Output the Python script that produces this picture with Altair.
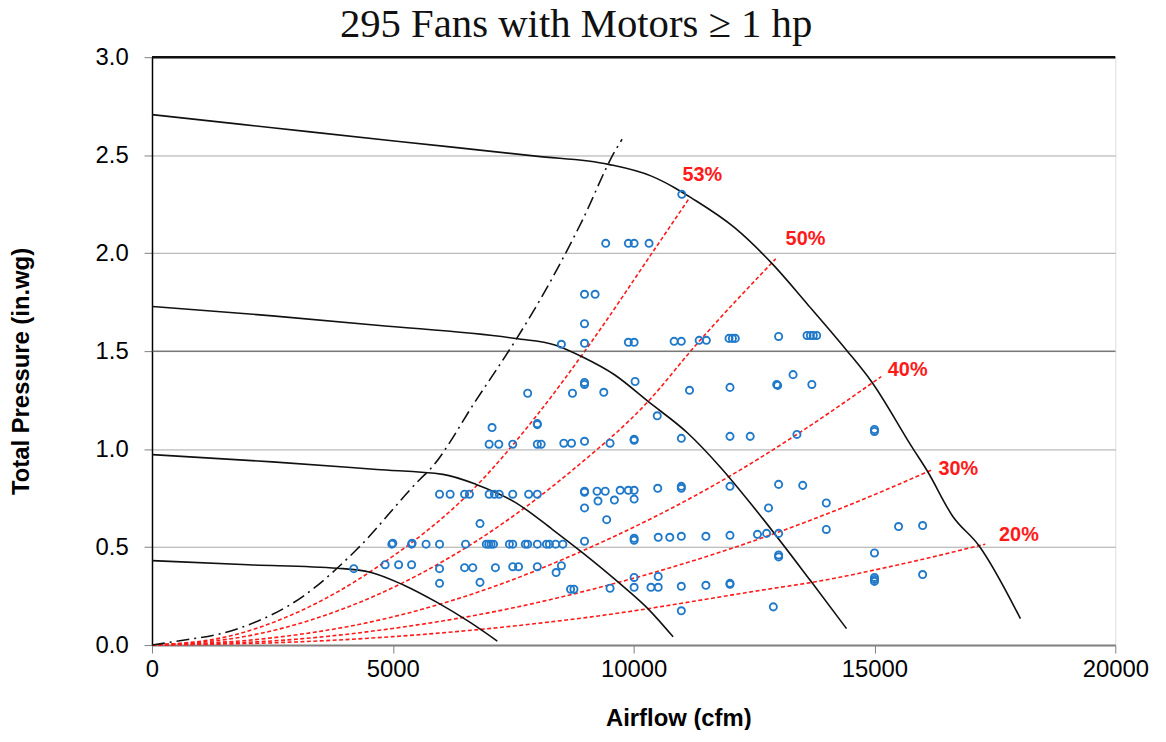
import altair as alt
import pandas as pd

# ---------------- data ----------------
# measured fans: airflow (cfm) and total pressure (in.wg)
fan_cfm = [
    11000,
    9420, 9890, 10010, 10320,
    8980, 9200,
    8980,
    8500, 8980, 9890, 10010, 10840, 10990, 11360, 11510, 11980, 12050, 12110,
    13010, 13600, 13670, 13730, 13800,
    13310,
    8980, 8980, 10030, 12970, 12990, 13700,
    7800, 8730, 9380, 11160, 12000,
    10490,
    8000, 8000,
    7060,
    7000, 7200, 7490, 8000, 8080, 8550, 8710, 8980, 9510, 10010, 10010, 10990,
    12000, 12420, 13390, 15000, 15000,
    13010, 13510,
    10500, 10990, 10990, 12000,
    5970, 6190, 6490, 6590, 7000, 7110, 7210, 7490, 7820, 8000,
    8980, 8980, 9240, 9410, 9720, 9890, 10010,
    9260, 9600, 10010,
    8980, 12800, 14000,
    9440,
    6810,
    14000, 15500, 16000,
    12570, 12760, 13010,
    10010, 10010, 10510, 10750, 10990, 11500, 12000,
    4980, 5000, 5390, 5400, 5690, 5970, 6510, 6940, 6990, 7040, 7090,
    7420, 7490, 7750, 7800, 8000, 8190, 8250, 8380, 8530, 8980,
    13010, 13010, 15000,
    4840, 5120, 5390, 5970, 6490, 6660, 7130, 7490, 7610, 8000, 8500,
    4190,
    8390,
    10010, 10510, 15000, 15000, 16000,
    5970, 6810, 15000,
    8690, 8760, 9510, 10010, 10360, 10510, 10990, 11500, 12000, 12000,
    10990, 12900,
]
fan_inwg = [
    2.30,
    2.05, 2.05, 2.05, 2.05,
    1.79, 1.79,
    1.64,
    1.535, 1.54, 1.545, 1.545, 1.55, 1.55, 1.555, 1.555, 1.565, 1.565, 1.565,
    1.575, 1.58, 1.58, 1.58, 1.58,
    1.38,
    1.34, 1.33, 1.345, 1.33, 1.325, 1.33,
    1.285, 1.285, 1.29, 1.30, 1.315,
    1.17,
    1.13, 1.125,
    1.11,
    1.025, 1.025, 1.025, 1.025, 1.025, 1.03, 1.03, 1.04, 1.03, 1.045, 1.05, 1.055,
    1.065, 1.065, 1.075, 1.09, 1.10,
    0.82, 0.815,
    0.80, 0.80, 0.81, 0.81,
    0.77, 0.77, 0.77, 0.77, 0.77, 0.77, 0.77, 0.77, 0.77, 0.77,
    0.785, 0.78, 0.785, 0.785, 0.79, 0.79, 0.79,
    0.735, 0.74, 0.745,
    0.70, 0.70, 0.725,
    0.64,
    0.62,
    0.59, 0.605, 0.61,
    0.565, 0.57, 0.57,
    0.545, 0.535, 0.55, 0.55, 0.555, 0.555, 0.56,
    0.515, 0.52, 0.515, 0.52, 0.515, 0.515, 0.515, 0.515, 0.515, 0.515, 0.515,
    0.515, 0.515, 0.515, 0.515, 0.515, 0.515, 0.515, 0.515, 0.515, 0.53,
    0.45, 0.46, 0.47,
    0.41, 0.41, 0.41, 0.39, 0.395, 0.395, 0.395, 0.40, 0.40, 0.40, 0.405,
    0.39,
    0.37,
    0.345, 0.35, 0.345, 0.335, 0.36,
    0.315, 0.32, 0.325,
    0.285, 0.285, 0.29, 0.295, 0.295, 0.295, 0.30, 0.305, 0.31, 0.315,
    0.175, 0.195,
]

# fan curves (solid black)
curve1_x = [0, 2500, 5080, 7970, 9480, 10370, 10850, 11190, 12090, 12880, 13600, 14420, 14940, 15790, 16100, 16620, 17170, 18030]
curve1_y = [2.707, 2.64, 2.571, 2.495, 2.453, 2.393, 2.334, 2.283, 2.131, 1.945, 1.742, 1.505, 1.344, 1.006, 0.887, 0.659, 0.507, 0.135]
curve2_x = [0, 2500, 4670, 7550, 8380, 8930, 9610, 10300, 11120, 11810, 12500, 13670, 14420]
curve2_y = [1.728, 1.68, 1.632, 1.564, 1.530, 1.471, 1.378, 1.243, 1.082, 0.905, 0.701, 0.329, 0.084]
curve3_x = [0, 2500, 4670, 6040, 6730, 7550, 8310, 8930, 9680, 10300, 10820]
curve3_y = [0.972, 0.935, 0.896, 0.871, 0.820, 0.727, 0.591, 0.473, 0.321, 0.185, 0.042]
curve4_x = [0, 2000, 3850, 4530, 5220, 5910, 6590, 7170]
curve4_y = [0.431, 0.41, 0.392, 0.372, 0.307, 0.219, 0.118, 0.02]

# dash-dot limit curve
limit_x = [0, 410, 1790, 3160, 4260, 5560, 5770, 6730, 7550, 7970, 8930, 9610, 9760]
limit_y = [0, 0.016, 0.084, 0.253, 0.49, 0.845, 0.896, 1.25, 1.556, 1.725, 2.165, 2.52, 2.581]

# efficiency lines (red dashed)
eff_names = ["53%", "50%", "40%", "30%", "20%"]
eff_x = [
    [0, 1500, 3000, 4670, 6730, 7970, 9100, 10370, 11140],
    [0, 2000, 4670, 6730, 8790, 10300, 11260, 12950],
    [0, 2500, 4670, 7000, 8930, 11980, 13390, 15140],
    [0, 3000, 5000, 7500, 9000, 12910, 14500, 16210],
    [0, 3000, 5000, 7500, 9000, 12910, 13700, 15500, 17300],
]
eff_y = [
    [0, 0.04, 0.165, 0.397, 0.811, 1.166, 1.539, 1.996, 2.275],
    [0, 0.047, 0.256, 0.53, 0.905, 1.243, 1.522, 1.971],
    [0, 0.037, 0.125, 0.29, 0.48, 0.86, 1.075, 1.37],
    [0, 0.03, 0.085, 0.19, 0.276, 0.568, 0.717, 0.896],
    [0, 0.016, 0.043, 0.097, 0.14, 0.29, 0.32, 0.41, 0.515],
]
eff_label_x = [11014, 13155, 15277, 16330, 17587]
eff_label_y = [2.40, 2.07, 1.405, 0.90, 0.56]

x_ticks = [0, 5000, 10000, 15000, 20000]
y_ticks = [0.0, 0.5, 1.0, 1.5, 2.0, 2.5, 3.0]
dark_grid = [1.5]
frame_top = [3.0]

# ---------------- tables ----------------
pts = pd.DataFrame({"cfm": fan_cfm, "inwg": fan_inwg})

rows = []
for name, xs, ys in [("c1", curve1_x, curve1_y), ("c2", curve2_x, curve2_y),
                     ("c3", curve3_x, curve3_y), ("c4", curve4_x, curve4_y)]:
    for i, (a, b) in enumerate(zip(xs, ys)):
        rows.append({"curve": name, "order": i, "cfm": a, "inwg": b})
curves = pd.DataFrame(rows)

limit = pd.DataFrame({"cfm": limit_x, "inwg": limit_y, "order": list(range(len(limit_x)))})

rows = []
for name, xs, ys in zip(eff_names, eff_x, eff_y):
    for i, (a, b) in enumerate(zip(xs, ys)):
        rows.append({"eff": name, "order": i, "cfm": a, "inwg": b})
eff = pd.DataFrame(rows)

labels = pd.DataFrame({"eff": eff_names, "cfm": eff_label_x, "inwg": eff_label_y})
grid15 = pd.DataFrame({"inwg": dark_grid})
top_df = pd.DataFrame({"inwg": frame_top})

# ---------------- chart ----------------
FONT = "Liberation Sans"

xscale = alt.Scale(domain=[0, 20000], nice=False, zero=True)
yscale = alt.Scale(domain=[0, 3], nice=False)

x_enc = alt.X("cfm:Q", scale=xscale, axis=alt.Axis(
    values=x_ticks, format="d", title="Airflow (cfm)", grid=False,
    labelFont=FONT, labelFontSize=24, labelColor="#000", labelFlush=False,
    labelPadding=5, tickSize=8, tickColor="#808080", domainColor="#808080",
    domainWidth=2, titleFont=FONT, titleFontSize=24, titleFontWeight="bold",
    titleColor="#000", titleX=530, titleY=81, titleBaseline="alphabetic",
    titleAnchor="middle"))
y_enc = alt.Y("inwg:Q", scale=yscale, axis=alt.Axis(
    values=y_ticks, format=".1f", title="Total Pressure (in.wg)", grid=True,
    gridColor="#a8a8a8", gridWidth=1,
    labelFont=FONT, labelFontSize=24, labelColor="#000", labelPadding=16,
    tickSize=8, tickColor="#808080", domainColor="#000", domainWidth=1.5,
    titleFont=FONT, titleFontSize=24, titleFontWeight="bold", titleColor="#000",
    titleX=-131, titleY=316, titleAngle=270, titleBaseline="middle",
    titleAnchor="middle"))

grid_layer = alt.Chart(grid15).mark_rule(color="#555555", strokeWidth=1).encode(
    y=alt.Y("inwg:Q", scale=yscale))
top_layer = alt.Chart(top_df).mark_rule(color="#111111", strokeWidth=2.5).encode(
    y=alt.Y("inwg:Q", scale=yscale))

eff_layer = alt.Chart(eff).mark_line(
    color="#ff1a1a", strokeDash=[4, 2.5], strokeWidth=1.6, interpolate="monotone"
).encode(x=x_enc, y=y_enc, detail="eff:N", order="order:Q")

curve_layer = alt.Chart(curves).mark_line(
    color="#111111", strokeWidth=1.6, interpolate="monotone"
).encode(x=alt.X("cfm:Q", scale=xscale), y=alt.Y("inwg:Q", scale=yscale),
         detail="curve:N", order="order:Q")

limit_layer = alt.Chart(limit).mark_line(
    color="#111111", strokeWidth=1.6, strokeDash=[13, 5, 2, 5], interpolate="monotone"
).encode(x=alt.X("cfm:Q", scale=xscale), y=alt.Y("inwg:Q", scale=yscale),
         order="order:Q")

pt_layer = alt.Chart(pts).mark_point(
    shape="circle", filled=False, color="#2079c9", strokeWidth=1.9, size=52, opacity=1
).encode(x=alt.X("cfm:Q", scale=xscale), y=alt.Y("inwg:Q", scale=yscale))

label_layer = alt.Chart(labels).mark_text(
    align="left", baseline="middle", font=FONT, fontSize=20, fontWeight="bold",
    color="#ff1a1a"
).encode(x=alt.X("cfm:Q", scale=xscale), y=alt.Y("inwg:Q", scale=yscale), text="eff:N")

chart = alt.layer(
    eff_layer, grid_layer, top_layer, curve_layer, limit_layer, pt_layer, label_layer
).properties(
    width=970, height=592,
    title=alt.TitleParams(
        "295 Fans with Motors \u2265 1 hp", font="Liberation Serif", fontSize=41,
        fontWeight="normal", color="#111", anchor="middle", dx=-58,
        baseline="alphabetic", offset=-33),
    autosize=alt.AutoSizeParams(type="none"),
    padding={"left": 145, "top": 47, "right": 43, "bottom": 83},
).configure_view(
    stroke="#000", strokeWidth=2
).configure(background="white")

chart.save("out.html", embed_options={"renderer": "svg", "actions": False})
